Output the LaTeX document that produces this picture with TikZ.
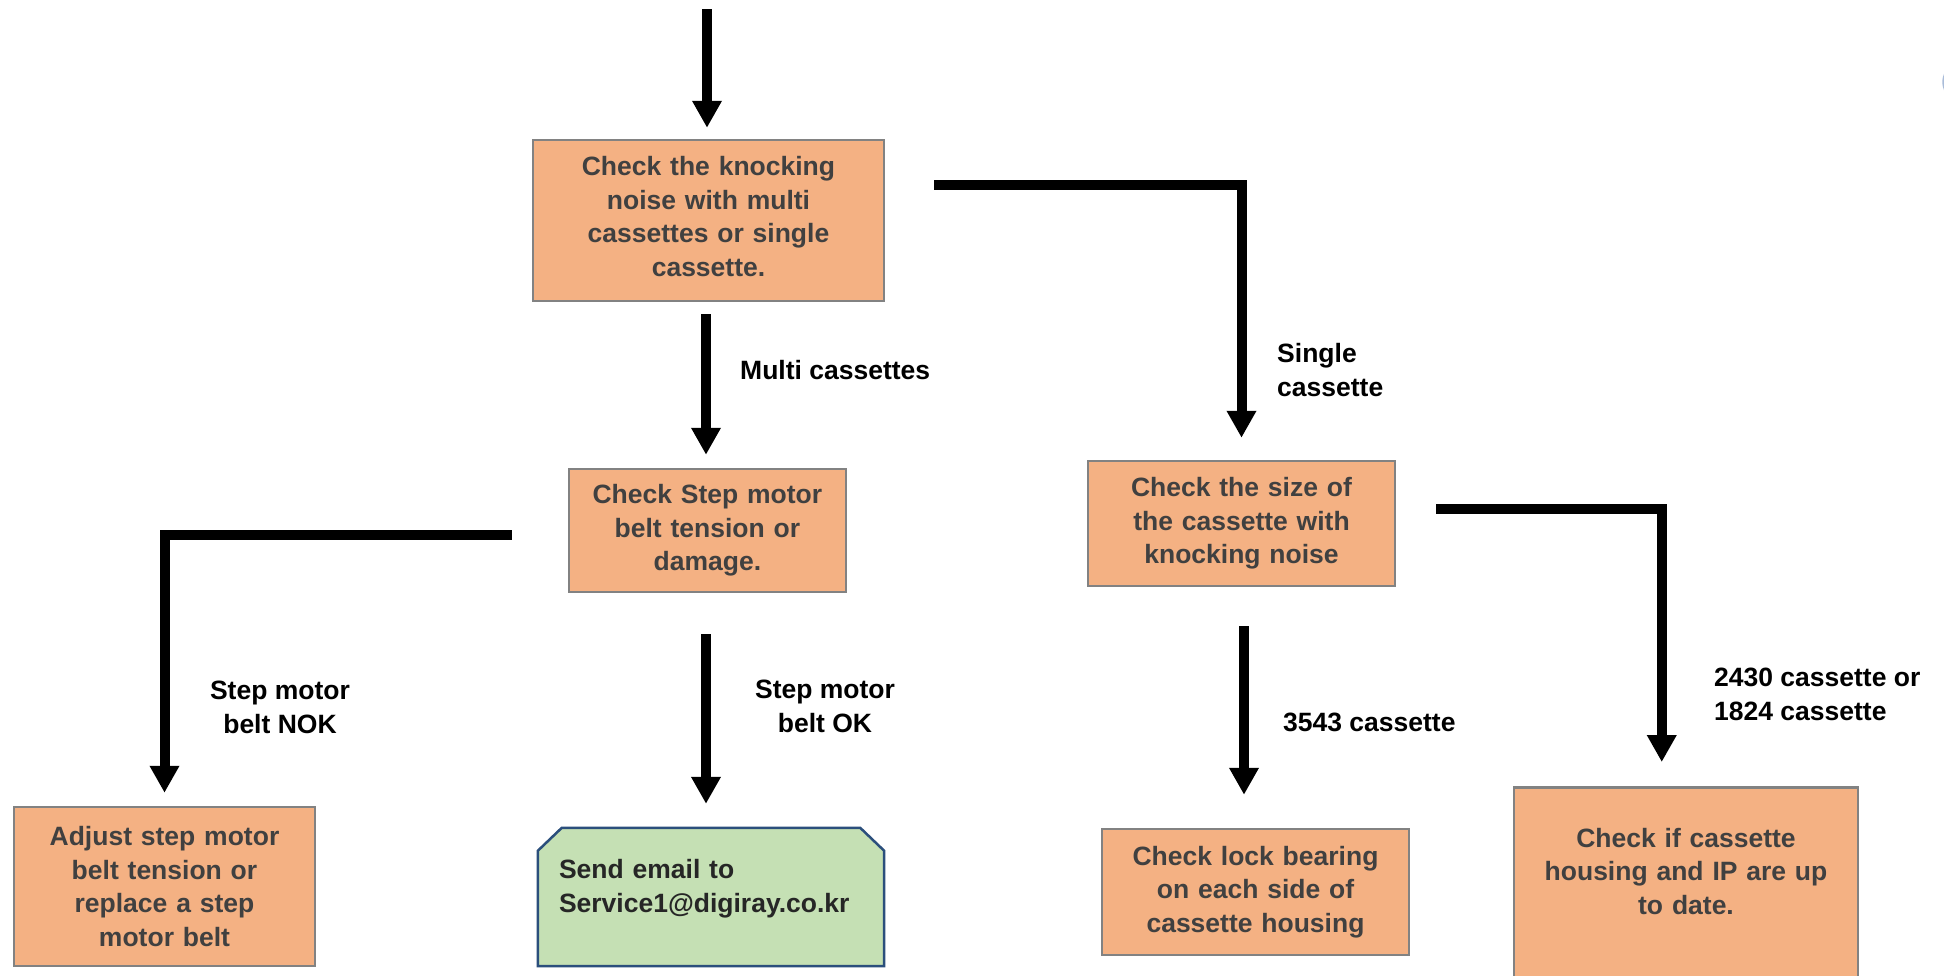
\documentclass[tikz,border=0pt]{standalone}
\usepackage{fontspec}
\setmainfont{Liberation Sans}
\usetikzlibrary{arrows.meta,calc,backgrounds}
\definecolor{boxfill}{HTML}{F4B183}
\definecolor{boxline}{HTML}{828282}
\definecolor{boxtext}{HTML}{404040}
\definecolor{mailfill}{HTML}{C5E0B4}
\definecolor{mailline}{HTML}{2B4F7C}
\definecolor{mailtext}{HTML}{262626}
\definecolor{arcblue}{HTML}{A9BCD9}
\begin{document}
\begin{tikzpicture}[x=1pt,y=-1pt,
  stepbox/.style={draw=boxline, line width=2.5pt, fill=boxfill, text=boxtext,
    font=\bfseries\fontsize{26.5}{33.5}\selectfont, align=center, inner sep=0pt},
  lbl/.style={text=black, font=\bfseries\fontsize{26.5}{34}\selectfont, inner sep=0pt},
  conn/.style={line width=10pt, -{Triangle[width=28pt,length=27pt]}},
  mailbox/.style={rectangle, text=mailtext,
    font=\bfseries\fontsize{26.5}{34}\selectfont, align=left, text width=304pt,
    inner xsep=21pt, inner ysep=0pt, minimum width=346pt, minimum height=138pt,
    text height=20pt, text depth=57pt},
  mailshape/.style={draw=mailline, line width=2.5pt, fill=mailfill}
]
\useasboundingbox (0,0) rectangle (1944,975);
\begin{scope}[on background layer]
\fill[white] (0,0) rectangle (1944,975);
\end{scope}

% boxes
\node[stepbox, text width=330pt, minimum width=351pt, minimum height=161pt,
      text height=19.5pt, text depth=109pt] (knock) at (708.5,220.5)
  {Check the knocking\\noise with multi\\cassettes or single\\cassette.};
\node[stepbox, text width=260pt, minimum width=277pt, minimum height=123pt] (step) at (707.4,530.5)
  {Check Step motor\\belt tension or\\damage.};
\node[stepbox, text width=290pt, minimum width=307pt, minimum height=125pt] (size) at (1241.5,523.5)
  {Check the size of\\the cassette with\\knocking noise};
\node[stepbox, text width=285pt, minimum width=301pt, minimum height=159pt] (adjust) at (164.5,886.5)
  {Adjust step motor\\belt tension or\\replace a step\\motor belt};
\node[stepbox, text width=290pt, minimum width=307pt, minimum height=126pt] (lock) at (1255.5,892)
  {Check lock bearing\\on each side of\\cassette housing};
\node[stepbox, anchor=north, text width=320pt, minimum width=344pt, text height=60pt, text depth=250pt] (update) at (1686,786)
  {Check if cassette\\housing and IP are up\\to date.};
\node[mailbox] (mail) at (711,897) {Send email to\\Service1@digiray.co.kr};
\begin{scope}[on background layer]
\draw[mailshape] (mail.south west) -- ($(mail.north west)+(0,23)$) -- ($(mail.north west)+(24,0)$)
  -- ($(mail.north east)+(-24,0)$) -- ($(mail.north east)+(0,23)$) -- (mail.south east) -- cycle;
\end{scope}

% connectors
\coordinate (top) at (707,9);
\draw[conn, shorten >=11pt] (top) -- (top |- knock.north);
\draw[conn, shorten <=12pt, shorten >=13pt] ([xshift=-2.5pt]knock.south) -- ([xshift=-2.5pt]knock.south |- step.north);
\coordinate (sgl) at ($(knock.north east)+(49,46)$);
\draw[conn, shorten >=22pt] (sgl) -| (size.north);
\coordinate (sz) at ($(size.east)+(40,-14.5)$);
\coordinate (bend) at ($(update.north west)+(149,0)$);
\draw[conn, shorten >=24pt] (sz) -| (bend);
\draw[conn, shorten <=39pt, shorten >=33pt] ([xshift=2.5pt]size.south) -- ([xshift=2.5pt]size.south |- lock.north);
\draw[conn, shorten <=41pt, shorten >=24pt] ([xshift=-5pt]mail.north |- step.south) -- ([xshift=-5pt]mail.north);
\coordinate (nok) at ($(step.west)+(-56,4)$);
\draw[conn, shorten >=13pt] (nok) -| (adjust.north);

% labels
\node[lbl, anchor=west] (lmulti) at (740,370) {Multi cassettes};
\node[lbl, anchor=west, align=left] (lsingle) at (1277,370) {Single\\cassette};
\node[lbl, align=center] (lnok) at (280,707) {Step motor\\belt NOK};
\node[lbl, align=center] (lok) at (825,706) {Step motor\\belt OK};
\node[lbl, anchor=west] (l3543) at (1283,722) {3543 cassette};
\node[lbl, anchor=west, align=left] (l2430) at (1714,694.5) {2430 cassette or\\1824 cassette};

% partial shape at the right edge
\draw[arcblue, line width=1.5pt] (1962,82) circle[radius=19];
\end{tikzpicture}
\end{document}
